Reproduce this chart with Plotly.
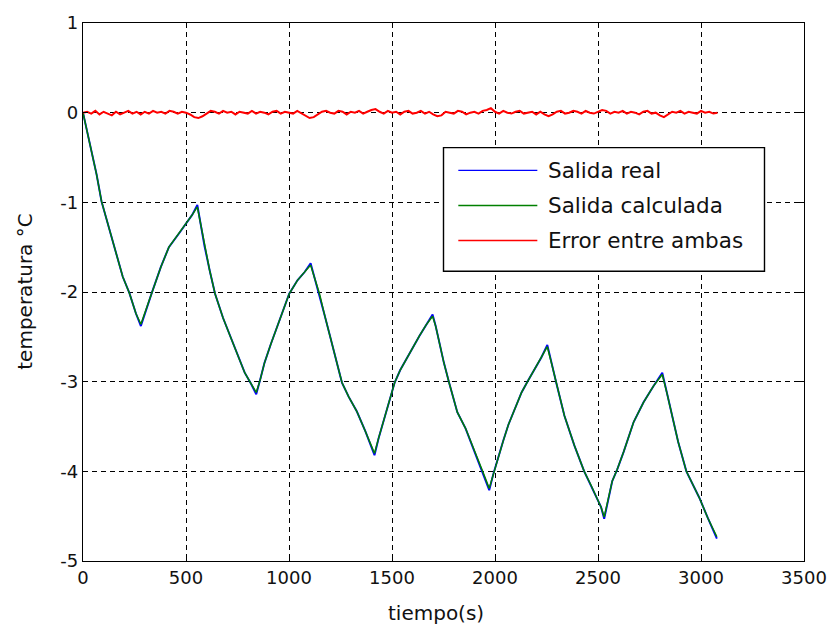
import plotly.graph_objects as go

# Medidas de temperatura (s, °C)
t_medida = [0, 20, 42, 66, 90, 118, 145, 170, 193, 225, 257, 281,
            305, 334, 378, 417, 465, 497, 530, 555,
            572, 590, 615, 641, 680, 721, 755, 785, 815, 841,
            860, 881, 912, 945, 975, 1001, 1041, 1075, 1105,
            1125, 1148, 1172, 1200, 1230, 1257, 1290, 1329, 1370, 1415,
            1435, 1457, 1485, 1513, 1540, 1569, 1600, 1633, 1665, 1697,
            1712, 1729, 1752, 1777, 1817, 1857, 1905, 1940, 1972,
            1993, 2017, 2040, 2065, 2097, 2129, 2160, 2193, 2225, 2254,
            2275, 2297, 2337, 2385, 2433, 2465, 2497, 2515, 2530,
            2550, 2569, 2593, 2625, 2673, 2721, 2769, 2812,
            2835, 2857, 2889, 2929, 2960, 2993, 3033, 3077]

salida_real = [0.00, -0.21, -0.44, -0.69, -0.99, -1.22, -1.42, -1.63, -1.83, -2.01, -2.24, -2.38,
               -2.20, -2.01, -1.72, -1.50, -1.35, -1.245, -1.14, -1.03,
               -1.26, -1.49, -1.76, -2.02, -2.29, -2.53, -2.73, -2.90, -3.02, -3.14,
               -2.98, -2.79, -2.58, -2.38, -2.19, -2.02, -1.87, -1.78, -1.68,
               -1.85, -2.02, -2.25, -2.50, -2.78, -3.01, -3.17, -3.33, -3.55, -3.82,
               -3.63, -3.45, -3.22, -3.01, -2.87, -2.75, -2.61, -2.49, -2.37, -2.25,
               -2.38, -2.57, -2.79, -3.01, -3.34, -3.52, -3.81, -4.00, -4.21,
               -4.02, -3.85, -3.66, -3.48, -3.29, -3.12, -2.99, -2.86, -2.73, -2.59,
               -2.80, -3.01, -3.38, -3.71, -4.00, -4.15, -4.30, -4.40, -4.53,
               -4.30, -4.11, -3.98, -3.78, -3.45, -3.23, -3.05, -2.90,
               -3.13, -3.34, -3.67, -4.00, -4.14, -4.30, -4.52, -4.75]

salida_calculada = [0.00, -0.21, -0.44, -0.69, -0.99, -1.22, -1.42, -1.63, -1.83, -2.01, -2.24, -2.36,
                    -2.20, -2.01, -1.72, -1.50, -1.35, -1.245, -1.14, -1.05,
                    -1.26, -1.49, -1.76, -2.02, -2.29, -2.53, -2.73, -2.90, -3.02, -3.12,
                    -2.98, -2.79, -2.58, -2.38, -2.19, -2.02, -1.87, -1.78, -1.70,
                    -1.85, -2.02, -2.25, -2.50, -2.78, -3.01, -3.17, -3.33, -3.55, -3.80,
                    -3.63, -3.45, -3.22, -3.01, -2.87, -2.75, -2.61, -2.49, -2.37, -2.27,
                    -2.38, -2.57, -2.79, -3.01, -3.34, -3.52, -3.81, -4.00, -4.19,
                    -4.02, -3.85, -3.66, -3.48, -3.29, -3.12, -2.99, -2.86, -2.73, -2.61,
                    -2.80, -3.01, -3.38, -3.71, -4.00, -4.15, -4.30, -4.40, -4.51,
                    -4.30, -4.11, -3.98, -3.78, -3.45, -3.23, -3.05, -2.92,
                    -3.13, -3.34, -3.67, -4.00, -4.14, -4.30, -4.52, -4.73]

# Error entre ambas salidas, muestreado cada 20 s
t_error = list(range(0, 3081, 20))
error = [0.00, 0.01, -0.01, 0.02, -0.02, 0.01, -0.01, -0.03, 0.01, -0.02, 0.00, 0.02, -0.01, 0.01, -0.02,
         0.01, -0.01, 0.02, 0.00, 0.01, -0.01, 0.02, 0.01, -0.01, 0.01, 0.00, -0.02, -0.05, -0.06,
         -0.04, -0.01, 0.02, 0.01, -0.01, 0.02, 0.00, 0.01, -0.02, 0.01, 0.00, -0.01, 0.02, -0.01,
         0.01, 0.00, -0.02, 0.01, 0.02, -0.01, 0.01, 0.00, -0.01, 0.02, -0.01, -0.04, -0.06, -0.05,
         -0.02, 0.01, 0.02, 0.00, -0.01, 0.02, 0.01, -0.02, 0.01, 0.00, 0.02, -0.01, 0.01, 0.03,
         0.04, 0.01, -0.01, 0.02, 0.00, 0.01, -0.02, 0.01, 0.02, -0.01, 0.00, 0.02, -0.01, 0.01,
         -0.02, -0.04, -0.03, 0.01, 0.00, -0.01, 0.02, 0.01, -0.02, 0.00, 0.01, -0.01, 0.02, 0.03,
         0.05, 0.01, -0.01, 0.02, 0.00, -0.01, 0.01, 0.02, -0.01, 0.00, 0.01, -0.02, 0.01, -0.02,
         -0.04, -0.02, 0.01, 0.02, -0.01, 0.00, 0.02, 0.01, -0.01, 0.02, 0.00, -0.01, 0.01, 0.03,
         0.02, -0.01, 0.01, 0.00, 0.02, -0.01, 0.01, 0.00, -0.02, 0.01, 0.02, -0.01, 0.00, -0.03,
         -0.05, -0.02, 0.01, 0.00, 0.02, -0.01, 0.01, 0.00, -0.01, 0.02, 0.00, 0.01, -0.01, 0.00]

x_ticks = [0, 500, 1000, 1500, 2000, 2500, 3000, 3500]
y_ticks = [1, 0, -1, -2, -3, -4, -5]

series = [
    ("Salida real", "#0000ff", 1.9),
    ("Salida calculada", "#008000", 1.5),
    ("Error entre ambas", "#ff0000", 2.0),
]

FONT = "DejaVu Sans"

fig = go.Figure()
fig.add_trace(go.Scatter(x=t_medida, y=salida_real, mode="lines", name=series[0][0],
                         line=dict(color=series[0][1], width=series[0][2]), showlegend=False))
fig.add_trace(go.Scatter(x=t_medida, y=salida_calculada, mode="lines", name=series[1][0],
                         line=dict(color=series[1][1], width=series[1][2]), showlegend=False))
fig.add_trace(go.Scatter(x=t_error, y=error, mode="lines", name=series[2][0],
                         line=dict(color=series[2][1], width=series[2][2]), showlegend=False))

axis_common = dict(
    showline=True, linecolor="black", linewidth=1.4, mirror="ticks",
    ticks="inside", ticklen=5, tickwidth=1, tickcolor="black",
    showgrid=True, gridcolor="black", gridwidth=1, griddash="5px,4px",
    zeroline=False, tickfont=dict(family=FONT, size=18, color="#111"),
)

fig.update_xaxes(range=[0, 3500], tickvals=x_ticks, ticktext=[str(v) for v in x_ticks], **axis_common)
fig.update_yaxes(range=[-5, 1], tickvals=y_ticks, ticktext=[str(v) for v in y_ticks], **axis_common)

# Leyenda dibujada a mano (caja, muestras de línea y textos)
L, R, T, B = 83, 813, 17, 561
W, H = R - L, B - T


def px_x(p):
    return (p - L) / W


def px_y(p):
    return (B - p) / H


shapes = [dict(type="rect", xref="paper", yref="paper",
               x0=px_x(448), x1=px_x(773), y0=px_y(268), y1=px_y(143),
               line=dict(color="black", width=1.4), fillcolor="white", layer="above")]
annotations = []
for i, (label, color, _) in enumerate(series):
    yc = 166 + i * 35.5
    shapes.append(dict(type="line", xref="paper", yref="paper",
                       x0=px_x(463), x1=px_x(543), y0=px_y(yc), y1=px_y(yc),
                       line=dict(color=color, width=1.4), layer="above"))
    annotations.append(dict(text=label, xref="paper", yref="paper",
                            x=px_x(552), y=px_y(yc), xanchor="left", yanchor="middle",
                            showarrow=False, font=dict(family=FONT, size=21.5, color="#111")))

annotations.append(dict(text="tiempo(s)", xref="paper", yref="paper", x=0.49, y=px_y(614),
                        xanchor="center", yanchor="middle", showarrow=False,
                        font=dict(family=FONT, size=20, color="#111")))
annotations.append(dict(text="temperatura °C", xref="paper", yref="paper", x=px_x(24), y=0.5,
                        xanchor="center", yanchor="middle", textangle=-90, showarrow=False,
                        font=dict(family=FONT, size=20, color="#111")))

fig.update_layout(
    width=839, height=630,
    margin=dict(l=L, r=839 - R, t=T, b=630 - B),
    paper_bgcolor="white", plot_bgcolor="white",
    shapes=shapes, annotations=annotations,
    showlegend=False,
)

fig.write_html("out.html")
